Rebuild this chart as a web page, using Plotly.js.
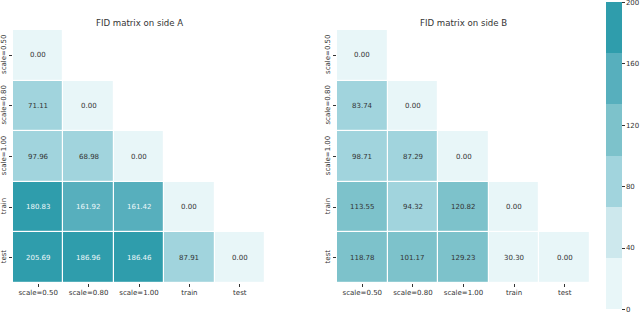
<!DOCTYPE html>
<html>
<head>
<meta charset="utf-8">
<script src="https://cdn.plot.ly/plotly-3.0.1.min.js"></script>
<style>html,body{margin:0;padding:0;background:#fff;}#chart{width:640px;height:315px;}</style>
</head>
<body>
<div id="chart"></div>
<script>
const labels = ["scale=0.50", "scale=0.80", "scale=1.00", "train", "test"];
const titleA = "FID matrix on side A";
const titleB = "FID matrix on side B";
// lower-triangular FID values, row by row (row i has i+1 entries)
const sideA = [
  [0.00],
  [71.11, 0.00],
  [97.96, 68.98, 0.00],
  [180.83, 161.92, 161.42, 0.00],
  [205.69, 186.96, 186.46, 87.91, 0.00]
];
const sideB = [
  [0.00],
  [83.74, 0.00],
  [98.71, 87.29, 0.00],
  [113.55, 94.32, 120.82, 0.00],
  [118.78, 101.17, 129.23, 30.30, 0.00]
];
const bandColors = ["#e8f6f8", "#cde8ed", "#a1d4dd", "#7dc2cb", "#57afbd", "#2f9dac"];
const zmin = 0, zmax = 200;
const colorTicks = [0, 40, 80, 120, 160, 200];

const colorscale = [];
bandColors.forEach((c, i) => {
  colorscale.push([i / bandColors.length, c]);
  colorscale.push([(i + 1) / bandColors.length, c]);
});

function fullMatrix(tri) {
  return labels.map((_, r) => labels.map((_, c) => (c <= r ? tri[r][c] : null)));
}

const font = "DejaVu Sans, sans-serif";
const dark = "#333333";

function hm(tri, xa, ya, showScale) {
  return {
    type: "heatmap",
    x: labels, y: labels, z: fullMatrix(tri),
    xaxis: xa, yaxis: ya,
    zmin: zmin, zmax: zmax, colorscale: colorscale,
    xgap: 1.2, ygap: 1.2,
    hoverongaps: false,
    showscale: showScale,
    colorbar: showScale ? {
      xref: "container", x: 606 / 640, xanchor: "left", xpad: 0,
      yref: "container", y: 1 - 3 / 315, yanchor: "top", ypad: 0,
      lenmode: "pixels", len: 307,
      thickness: 16, outlinewidth: 0,
      tickvals: colorTicks, ticktext: colorTicks.map(String),
      ticks: "outside", ticklen: 3, tickcolor: dark,
      ticklabeloverflow: "allow",
      tickfont: {family: font, size: 7, color: dark}
    } : undefined
  };
}

const annotations = [];
function addText(tri, xa, ya) {
  tri.forEach((row, r) => row.forEach((v, c) => {
    annotations.push({
      xref: xa, yref: ya, x: labels[c], y: labels[r],
      text: v.toFixed(2), showarrow: false,
      font: {family: font, size: 7, color: v > 150 ? "#eef8fa" : dark}
    });
  }));
}
addText(sideA, "x", "y");
addText(sideB, "x2", "y2");

const domA = [0, 252 / 577];
const domB = [324 / 577, 1];
[[titleA, domA], [titleB, domB]].forEach(([t, d]) => {
  annotations.push({
    xref: "paper", yref: "paper", x: (d[0] + d[1]) / 2, y: 1,
    xanchor: "center", yanchor: "middle", yshift: 7,
    text: t, showarrow: false,
    font: {family: font, size: 8.6, color: dark}
  });
});

function xax(dom, anchor) {
  return {domain: dom, anchor: anchor, type: "category", showgrid: false, zeroline: false,
    ticks: "outside", ticklen: 3, tickcolor: dark, tickfont: {family: font, size: 7, color: dark},
    showline: false, fixedrange: true};
}
function yax(anchor) {
  return {domain: [0, 1], anchor: anchor, type: "category", autorange: "reversed",
    showgrid: false, zeroline: false, ticks: "outside", ticklen: 3, tickcolor: dark,
    tickangle: -90, tickfont: {family: font, size: 7, color: dark}, showline: false, fixedrange: true};
}

const layout = {
  width: 640, height: 315,
  margin: {l: 13, r: 50, t: 30, b: 32},
  paper_bgcolor: "#ffffff", plot_bgcolor: "#ffffff",
  showlegend: false,
  xaxis: xax(domA, "y"), yaxis: yax("x"),
  xaxis2: xax(domB, "y2"), yaxis2: yax("x2"),
  annotations: annotations
};

Plotly.newPlot("chart", [hm(sideA, "x", "y", false), hm(sideB, "x2", "y2", true)], layout, {displayModeBar: false, staticPlot: true});
</script>
</body>
</html>
